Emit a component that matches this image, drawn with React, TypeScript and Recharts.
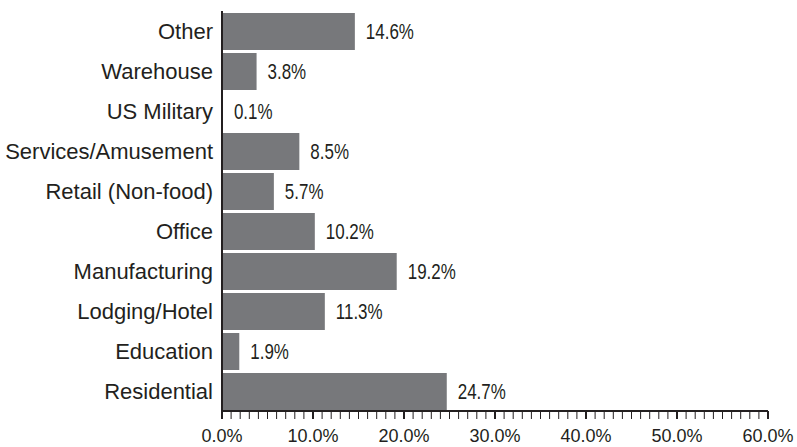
import React from 'react';
import { BarChart, Bar, XAxis, YAxis, LabelList } from 'recharts';

const categories = ['Other', 'Warehouse', 'US Military', 'Services/Amusement', 'Retail (Non-food)', 'Office', 'Manufacturing', 'Lodging/Hotel', 'Education', 'Residential'];
const shares = [14.6, 3.8, 0.1, 8.5, 5.7, 10.2, 19.2, 11.3, 1.9, 24.7];
const majorTicks = [0, 10, 20, 30, 40, 50, 60];
const majorTickLabels = ['0.0%', '10.0%', '20.0%', '30.0%', '40.0%', '50.0%', '60.0%'];
const allTicks = Array.from({ length: 61 }, (_, i) => i);

const data = categories.map((name, i) => ({ name, value: shares[i] }));

const INK = '#231f20';
const SANS = 'Arial, "Liberation Sans", sans-serif';

const XTick = (props: any) => {
  const { x, y, payload } = props;
  const v = payload.value as number;
  const idx = majorTicks.indexOf(v);
  const major = idx >= 0;
  return (
    <g>
      <line x1={x} x2={x} y1={y} y2={y + 8} stroke={INK} strokeWidth={major ? 2 : 1} />
      {major && (
        <text x={x} y={y + 31} textAnchor="middle" fontSize={18} fill={INK} fontFamily={SANS}>
          {majorTickLabels[idx]}
        </text>
      )}
    </g>
  );
};

const ValueLabel = (props: any) => {
  const { x, y, width, height, value } = props;
  const tx = Number(x) + Number(width) + 11;
  const ty = Number(y) + Number(height) / 2;
  return (
    <text
      x={0}
      y={0}
      transform={`translate(${tx}, ${ty}) scale(0.77, 1)`}
      dominantBaseline="central"
      fontSize={22}
      fill={INK}
      fontFamily={SANS}
    >
      {`${Number(value).toFixed(1)}%`}
    </text>
  );
};

export default function App() {
  return (
    <div style={{ position: 'absolute', left: 0, top: 0, background: '#fff' }}>
      <BarChart
        width={797}
        height={447}
        data={data}
        layout="vertical"
        margin={{ top: 11, right: 29, bottom: 0, left: 0 }}
        barCategoryGap={3}
      >
        <XAxis
          type="number"
          domain={[0, 60]}
          ticks={allTicks}
          interval={0}
          tick={<XTick />}
          tickLine={false}
          tickSize={0}
          tickMargin={0}
          axisLine={{ stroke: INK, strokeWidth: 2 }}
          height={36}
        />
        <YAxis
          type="category"
          dataKey="name"
          width={222}
          tickLine={false}
          tickSize={0}
          tickMargin={9}
          axisLine={{ stroke: INK, strokeWidth: 2 }}
          tick={{ fontSize: 22, fill: INK, fontFamily: SANS }}
          interval={0}
        />
        <Bar dataKey="value" fill="#77787b" barSize={37} isAnimationActive={false}>
          <LabelList dataKey="value" content={<ValueLabel />} />
        </Bar>
      </BarChart>
    </div>
  );
}
